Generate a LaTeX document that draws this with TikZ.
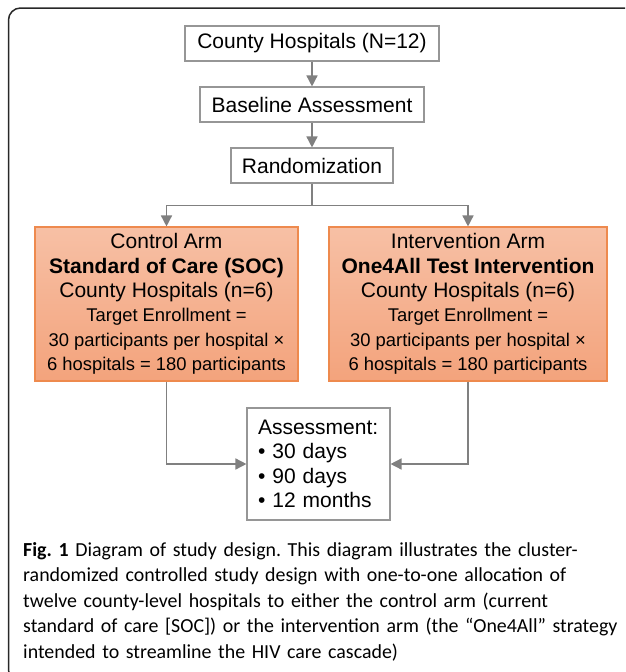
\documentclass[tikz,border=0pt]{standalone}
\usepackage{fontspec}
\setmainfont{Liberation Sans}
\newfontfamily\capfont{Carlito}
\usepackage{xcolor}
\usetikzlibrary{arrows.meta}
\frenchspacing
\definecolor{boxgray}{RGB}{150,150,150}
\definecolor{linegray}{RGB}{128,128,128}
\definecolor{armtop}{RGB}{247,192,165}
\definecolor{armbottom}{RGB}{243,163,124}
\definecolor{armedge}{RGB}{238,138,78}
\definecolor{framegray}{RGB}{40,40,40}
\newcommand{\armsmall}{\fontsize{18.4}{24.4}\selectfont}
\tikzstyle{stage} = [rectangle, minimum height=35pt, inner xsep=0pt, text centered, draw=boxgray, line width=1.1pt, fill=white, font=\fontsize{21}{24}\selectfont]
\tikzstyle{arm} = [rectangle, minimum height=154pt, inner sep=0pt, align=center, draw=armedge, line width=1.1pt, top color=armtop, bottom color=armbottom, font=\fontsize{21}{24.4}\selectfont]
\tikzstyle{followup} = [rectangle, minimum height=112pt, text width=121pt, inner xsep=11pt, align=left, draw=boxgray, line width=1.1pt, fill=white, font=\fontsize{21}{24.3}\selectfont]
\tikzstyle{arrow} = [line width=1.5pt, draw=linegray, -{Triangle[length=11pt,width=11pt]}]

\begin{document}
\begin{tikzpicture}[x=1pt, y=1pt, node distance=61pt]
        \useasboundingbox (0,0) rectangle (625,-672);
        \begin{scope}
            \clip (0,0) rectangle (625,-672);
            \draw [framegray, line width=1.5pt, rounded corners=12pt] (650,-8) -- (8.5,-8) -- (8.5,-682) -- (650,-682);
        \end{scope}

        \node (county) [stage, minimum width=254pt] at (312,-43.5) {County Hospitals (N=12)};
        \node (baseline) [stage, minimum width=224pt, below of=county] {Baseline Assessment};
        \node (random) [stage, minimum width=162pt, below of=baseline] {Randomization};
        \node (control) [arm, minimum width=263pt, below of=random, xshift=-145.5pt, yshift=-77.5pt] {Control Arm\\ \textbf{Standard of Care (SOC)}\\ County Hospitals (n=6)\\ {\armsmall Target Enrollment =}\\ {\armsmall 30 participants per hospital ×}\\ {\armsmall 6 hospitals = 180 participants}};
        \node (interv) [arm, minimum width=278pt, below of=random, xshift=156pt, yshift=-77.5pt] {Intervention Arm\\ \textbf{One4All Test Intervention}\\ County Hospitals (n=6)\\ {\armsmall Target Enrollment =}\\ {\armsmall 30 participants per hospital ×}\\ {\armsmall 6 hospitals = 180 participants}};
        \node (assess) [followup, below of=random, xshift=6.5pt, yshift=-237.5pt] {Assessment:\\ • 30 days\\ • 90 days\\ • 12 months};

        \draw [arrow] (county) -- (baseline);
        \draw [arrow] (baseline) -- (random);
        \draw [arrow] (random.south) -- ++(0,-22) -| (control.north);
        \draw [arrow] (random.south) -- ++(0,-22) -| (interv.north);
        \draw [arrow] (control.south) |- (assess.west);
        \draw [arrow] (interv.south) |- (assess.east);
        % caption under the chart, inside the frame

        \node (caption) [anchor=base west, inner sep=0pt, text width=600pt, align=left, font=\capfont\fontsize{19.9}{25.5}\selectfont] at (23,-556) {\textbf{Fig.~1} Diagram of study design. This diagram illustrates the cluster-\\ randomized controlled study design with one-to-one allocation of\\ twelve county-level hospitals to either the control arm (current\\ standard of care [SOC]) or the intervention arm (the “One4All” strategy\\ intended to streamline the HIV care cascade)};
    \end{tikzpicture}
\end{document}
